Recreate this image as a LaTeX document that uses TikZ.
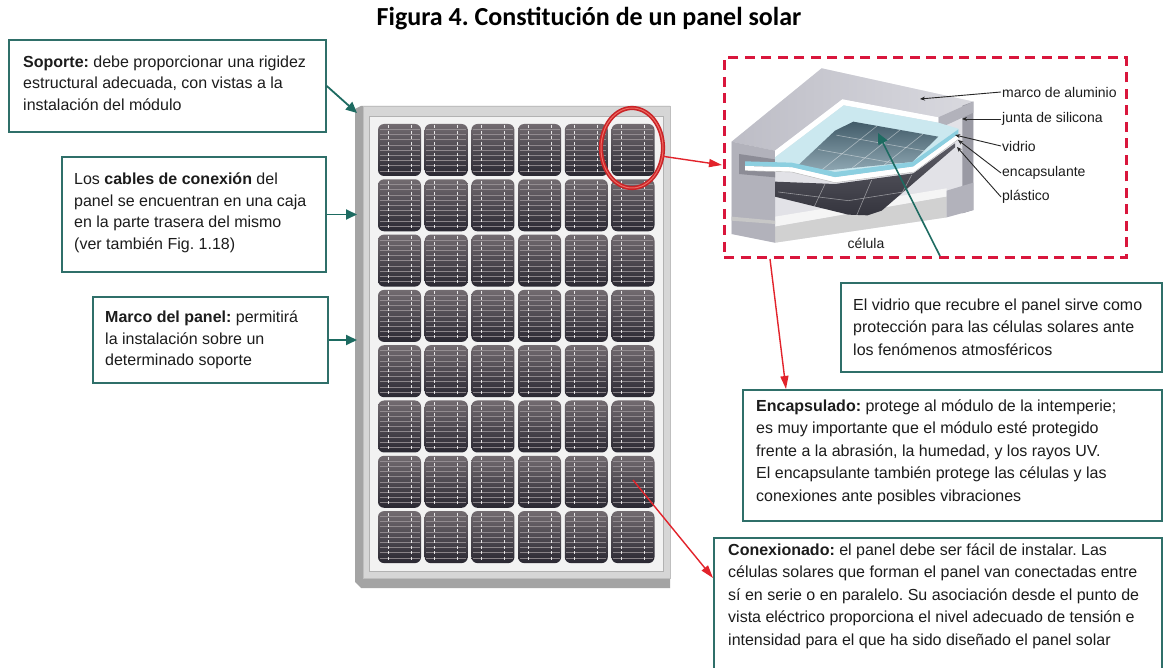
\documentclass[tikz,border=0pt]{standalone}
\usepackage{fontspec}
\setmainfont{Liberation Sans}
\newfontfamily\titlefont{Carlito}
\usetikzlibrary{arrows.meta,shapes.geometric}
\frenchspacing
\definecolor{boxteal}{HTML}{2F6F69}
\definecolor{arrowteal}{HTML}{1D6B61}
\definecolor{arrowred}{HTML}{E2232B}
\definecolor{dashred}{HTML}{D9163C}
\definecolor{ringred}{HTML}{C92428}
\definecolor{ringhi}{HTML}{EE6A62}
\definecolor{bodytext}{HTML}{1C1C1C}
\definecolor{celltop}{HTML}{726B70}
\definecolor{cellbot}{HTML}{2A2832}
\definecolor{cellline}{HTML}{9E979B}
\definecolor{panelside}{HTML}{A4A4A4}
\definecolor{panelface}{HTML}{D6D6D6}
\definecolor{panelinner}{HTML}{F2F2F2}
\definecolor{alubase}{HTML}{E2E2E7}
\definecolor{alutopA}{HTML}{BDBDC6}
\definecolor{alutopB}{HTML}{D9D9DF}
\definecolor{aluend}{HTML}{B2B2BB}
\definecolor{aludark}{HTML}{9A9AA4}
\definecolor{aluslot}{HTML}{8C8C96}
\definecolor{glasstop}{HTML}{CBE8EF}
\definecolor{glassedge}{HTML}{8CCFE0}
\definecolor{pvtop}{HTML}{3F5966}
\definecolor{pvbot}{HTML}{93ABB6}
\definecolor{backA}{HTML}{34343D}
\definecolor{backB}{HTML}{5E5E67}

\tikzset{
  frame/.style={draw=boxteal, line width=1.6pt, fill=white, inner sep=0pt},
  boxtext/.style={anchor=west, align=left, inner sep=0pt, text=bodytext,
    font=\fontsize{16}{21.5}\selectfont},
  boxtextR/.style={boxtext, font=\fontsize{16}{22.5}\selectfont},
  tealarrow/.style={draw=arrowteal, line width=1.8pt, -{Triangle[length=11pt,width=10pt]}},
  redarrow/.style={draw=arrowred, line width=1.4pt, -{Triangle[length=13pt,width=8pt]}},
  leader/.style={draw=black!85, line width=0.9pt, -{Stealth[length=5pt,width=4pt]}},
  lbl/.style={anchor=west, inner sep=1pt, text=bodytext, font=\fontsize{14}{16}\selectfont},
  cellfinger/.style={draw=cellline, line width=0.5pt, opacity=0.8},
  busbar/.style={draw=white, line width=1pt, dash pattern=on 3pt off 2.5pt, opacity=0.85},
  pvgrid/.style={draw=white, line width=0.6pt, opacity=0.45},
}

\begin{document}
\begin{tikzpicture}[x=1pt,y=-1pt]
\useasboundingbox (0,0) rectangle (1163,668);
\fill[white] (0,0) rectangle (1163,668);

% title
\node[font=\titlefont\bfseries\fontsize{26}{30}\selectfont] (title) at (589,19)
  {Figura 4. Constitución de un panel solar};

% ---------------- solar panel ----------------
\fill[panelside] (355,109) -- (361,106) -- (670,106) -- (670,588) -- (361,588) -- (355,582) -- cycle;
\fill[panelface] (363,106) rectangle (670,578);
\draw[black!25, line width=0.5pt] (363,106) rectangle (670,578);
\fill[panelinner] (369,116) rectangle (663,571);
\draw[black!30, line width=0.5pt] (369,116) rectangle (663,571);

\foreach \c in {0,...,5}{
  \foreach \r in {0,...,7}{
    \pgfmathsetmacro\cx{378+46.7*\c}
    \pgfmathsetmacro\cy{124+55.3*\r}
    \shade[top color=celltop, bottom color=cellbot, rounded corners=6pt]
      (\cx,\cy) rectangle ++(43,52);
    \foreach \k in {1,...,9}{
      \draw[cellfinger] (\cx+1.5,\cy+5.2*\k) -- ++(40,0);
    }
    \draw[busbar] (\cx+10,\cy+1.5) -- ++(0,49);
    \draw[busbar] (\cx+33,\cy+1.5) -- ++(0,49);
  }
}

% ring marking one cell
\node[ellipse, draw=ringred, line width=1.6pt, double=ringhi, double distance=1pt,
      minimum width=62pt, minimum height=80pt, inner sep=0pt] (ring) at (632,148) {};

% ---------------- text boxes ----------------
\node[frame, minimum width=317pt, minimum height=92pt] (soporte) at (167.5,86) {};
\node[boxtext] (soporteT) at (23,83)
  {\textbf{Soporte:} debe proporcionar una rigidez\\estructural adecuada, con vistas a la\\instalación del módulo};

\node[frame, minimum width=264pt, minimum height=115pt] (cables) at (194,214.5) {};
\node[boxtext] (cablesT) at (74,213)
  {Los \textbf{cables de conexión} del\\panel se encuentran en una caja\\en la parte trasera del mismo\\(ver también Fig. 1.18)};

\node[frame, minimum width=235pt, minimum height=86pt] (marco) at (210.5,340) {};
\node[boxtext] (marcoT) at (105,340)
  {\textbf{Marco del panel:} permitirá\\la instalación sobre un\\determinado soporte};

\node[frame, minimum width=321pt, minimum height=89pt] (vidrio) at (1001.5,327.5) {};
\node[boxtextR] (vidrioT) at (853,327)
  {El vidrio que recubre el panel sirve como\\protección para las células solares ante\\los fenómenos atmosféricos};

\node[frame, minimum width=419pt, minimum height=131pt] (encaps) at (952.5,455.5) {};
\node[boxtextR] (encapsT) at (756,452)
  {\textbf{Encapsulado:} protege al módulo de la intemperie;\\es muy importante que el módulo esté protegido\\frente a la abrasión, la humedad, y los rayos UV.\\El encapsulante también protege las células y las\\conexiones ante posibles vibraciones};

\node[frame, minimum width=448pt, minimum height=162pt] (conex) at (938,619) {};
\node[boxtextR] (conexT) at (728,596)
  {\textbf{Conexionado:} el panel debe ser fácil de instalar. Las\\células solares que forman el panel van conectadas entre\\sí en serie o en paralelo. Su asociación desde el punto de\\vista eléctrico proporciona el nivel adecuado de tensión e\\intensidad para el que ha sido diseñado el panel solar};

% ---------------- cut-away of the frame edge ----------------
\node[draw=dashred, line width=3pt, dash pattern=on 10pt off 6.5pt,
      minimum width=402pt, minimum height=200pt, inner sep=0pt] (inset) at (925,158) {};

\begin{scope}[shift={(725pt,-60pt)}, x=0.33333pt, y=-0.33333pt]
  % aluminium silhouette
  \fill[alubase] (20,245) -- (290,25) -- (745,125) -- (745,450) -- (665,472) -- (150,548) -- (20,522) -- cycle;
  % lower flange
  \fill[white!92!gray] (150,470) -- (665,385) -- (665,410) -- (150,500) -- cycle;
  \fill[black!18] (150,500) -- (665,410) -- (665,472) -- (150,548) -- cycle;
  % top face
  \shade[left color=alutopA, right color=alutopB]
    (20,245) -- (290,25) -- (745,125) -- (640,172) -- (352,118) -- (150,272) -- cycle;
  % left end (C profile)
  \fill[aluend] (20,245) -- (150,272) -- (150,548) -- (20,522) -- cycle;
  \fill[aluslot] (42,282) -- (150,298) -- (150,352) -- (42,342) -- cycle;
  \fill[black!22] (20,470) -- (150,482) -- (150,492) -- (20,482) -- cycle;
  % right end
  \fill[aludark] (712,137) -- (745,125) -- (745,450) -- (712,460) -- cycle;
  \fill[aluend] (640,172) -- (745,125) -- (745,158) -- (640,206) -- cycle;
  \fill[aluend] (665,392) -- (745,368) -- (745,450) -- (665,472) -- cycle;
  % silicone joint
  \fill[white] (150,272) -- (352,118) -- (640,172) -- (640,188) -- (356,136) -- (150,292) -- cycle;
  % glass surface
  \fill[glasstop] (150,292) -- (356,136) -- (640,188) -- (700,206) -- (700,215) -- (562,308)
     -- (330,338) -- (200,310) -- (150,306) -- cycle;
  % cell seen through the glass
  \begin{scope}
    \clip (330,212) -- (385,185) -- (640,230) -- (562,306) -- (280,334) -- (215,320) -- cycle;
    \shade[top color=pvtop, bottom color=pvbot] (200,180) rectangle (650,340);
    \foreach \t in {0.3,0.62}{
      \draw[pvgrid] ({385-170*\t},{185+135*\t}) -- ++(320,57);
    }
    \foreach \s in {0.28,0.55,0.82}{
      \draw[pvgrid] ({385+255*\s},{185+45*\s}) -- ++(-210,167);
    }
  \end{scope}
  % back sheet under the cell
  \begin{scope}
    \clip (150,365) -- (330,372) -- (565,340) -- (690,250) -- (690,262) -- (470,452)
       -- (428,466) -- (370,464) -- (150,410) -- cycle;
    \shade[top color=backB, bottom color=backA] (140,240) rectangle (700,470);
    \draw[pvgrid] (160,396) -- (370,422) -- (560,392);
    \draw[pvgrid] (300,372) -- (262,452);
    \draw[pvgrid] (440,360) -- (395,466);
    \draw[pvgrid] (560,345) -- (520,420);
  \end{scope}
  % cut edge of the laminate
  \fill[glassedge] (60,304) -- (200,308) -- (330,336) -- (562,306) -- (700,208) -- (700,222)
     -- (565,320) -- (330,352) -- (200,322) -- (60,318) -- cycle;
  \fill[white] (60,318) -- (200,322) -- (330,352) -- (565,320) -- (700,222) -- (700,238)
     -- (568,336) -- (330,368) -- (200,336) -- (60,332) -- cycle;
  \draw[black!30, line width=0.4pt] (60,332) -- (200,336) -- (330,368) -- (568,336) -- (700,238);
\end{scope}

% labels of the layers
\node[lbl] (lmarco) at (1001,92) {marco de aluminio};
\node[lbl] (ljunta) at (1001,119) {junta de silicona};
\node[lbl] (lvidrio) at (1001,146) {vidrio};
\node[lbl] (lencap) at (1001,173) {encapsulante};
\node[lbl] (lplast) at (1001,197) {plástico};
\node[lbl, anchor=center] (lcelula) at (866,243) {célula};

\coordinate (tmarco) at (920,99);
\coordinate (tjunta) at (962,119);
\coordinate (tvidrio) at (955,135);
\coordinate (tencap) at (958,140);
\coordinate (tplast) at (957,147);
\draw[leader] (lmarco.west) -- (tmarco);
\draw[leader] (ljunta.west) -- (tjunta);
\draw[leader] (lvidrio.west) -- (tvidrio);
\draw[leader] (lencap.west) -- (tencap);
\draw[leader] (lplast.west) -- (tplast);

% ---------------- connectors ----------------
\coordinate (pSoporte) at (357,113);
\coordinate (pCables) at (357,214.5);
\coordinate (pMarco) at (357,340);
\draw[tealarrow] (soporte.east) -- (pSoporte);
\draw[tealarrow] (cables.east) -- (pCables);
\draw[tealarrow] (marco.east) -- (pMarco);

\coordinate (glassTail) at (940,256);
\coordinate (glassTip) at (878,133);
\draw[tealarrow, line width=1.6pt] (glassTail) -- (glassTip);

\coordinate (insetIn) at (722,165);
\draw[redarrow] (ring.-15) -- (insetIn);

\coordinate (insetOut) at (770,259);
\coordinate (encapsIn) at (786,389);
\draw[redarrow] (insetOut) -- (encapsIn);

\coordinate (cellC) at (633,480);
\coordinate (conexIn) at (713,578);
\draw[redarrow] (cellC) -- (conexIn);
\end{tikzpicture}
\end{document}
